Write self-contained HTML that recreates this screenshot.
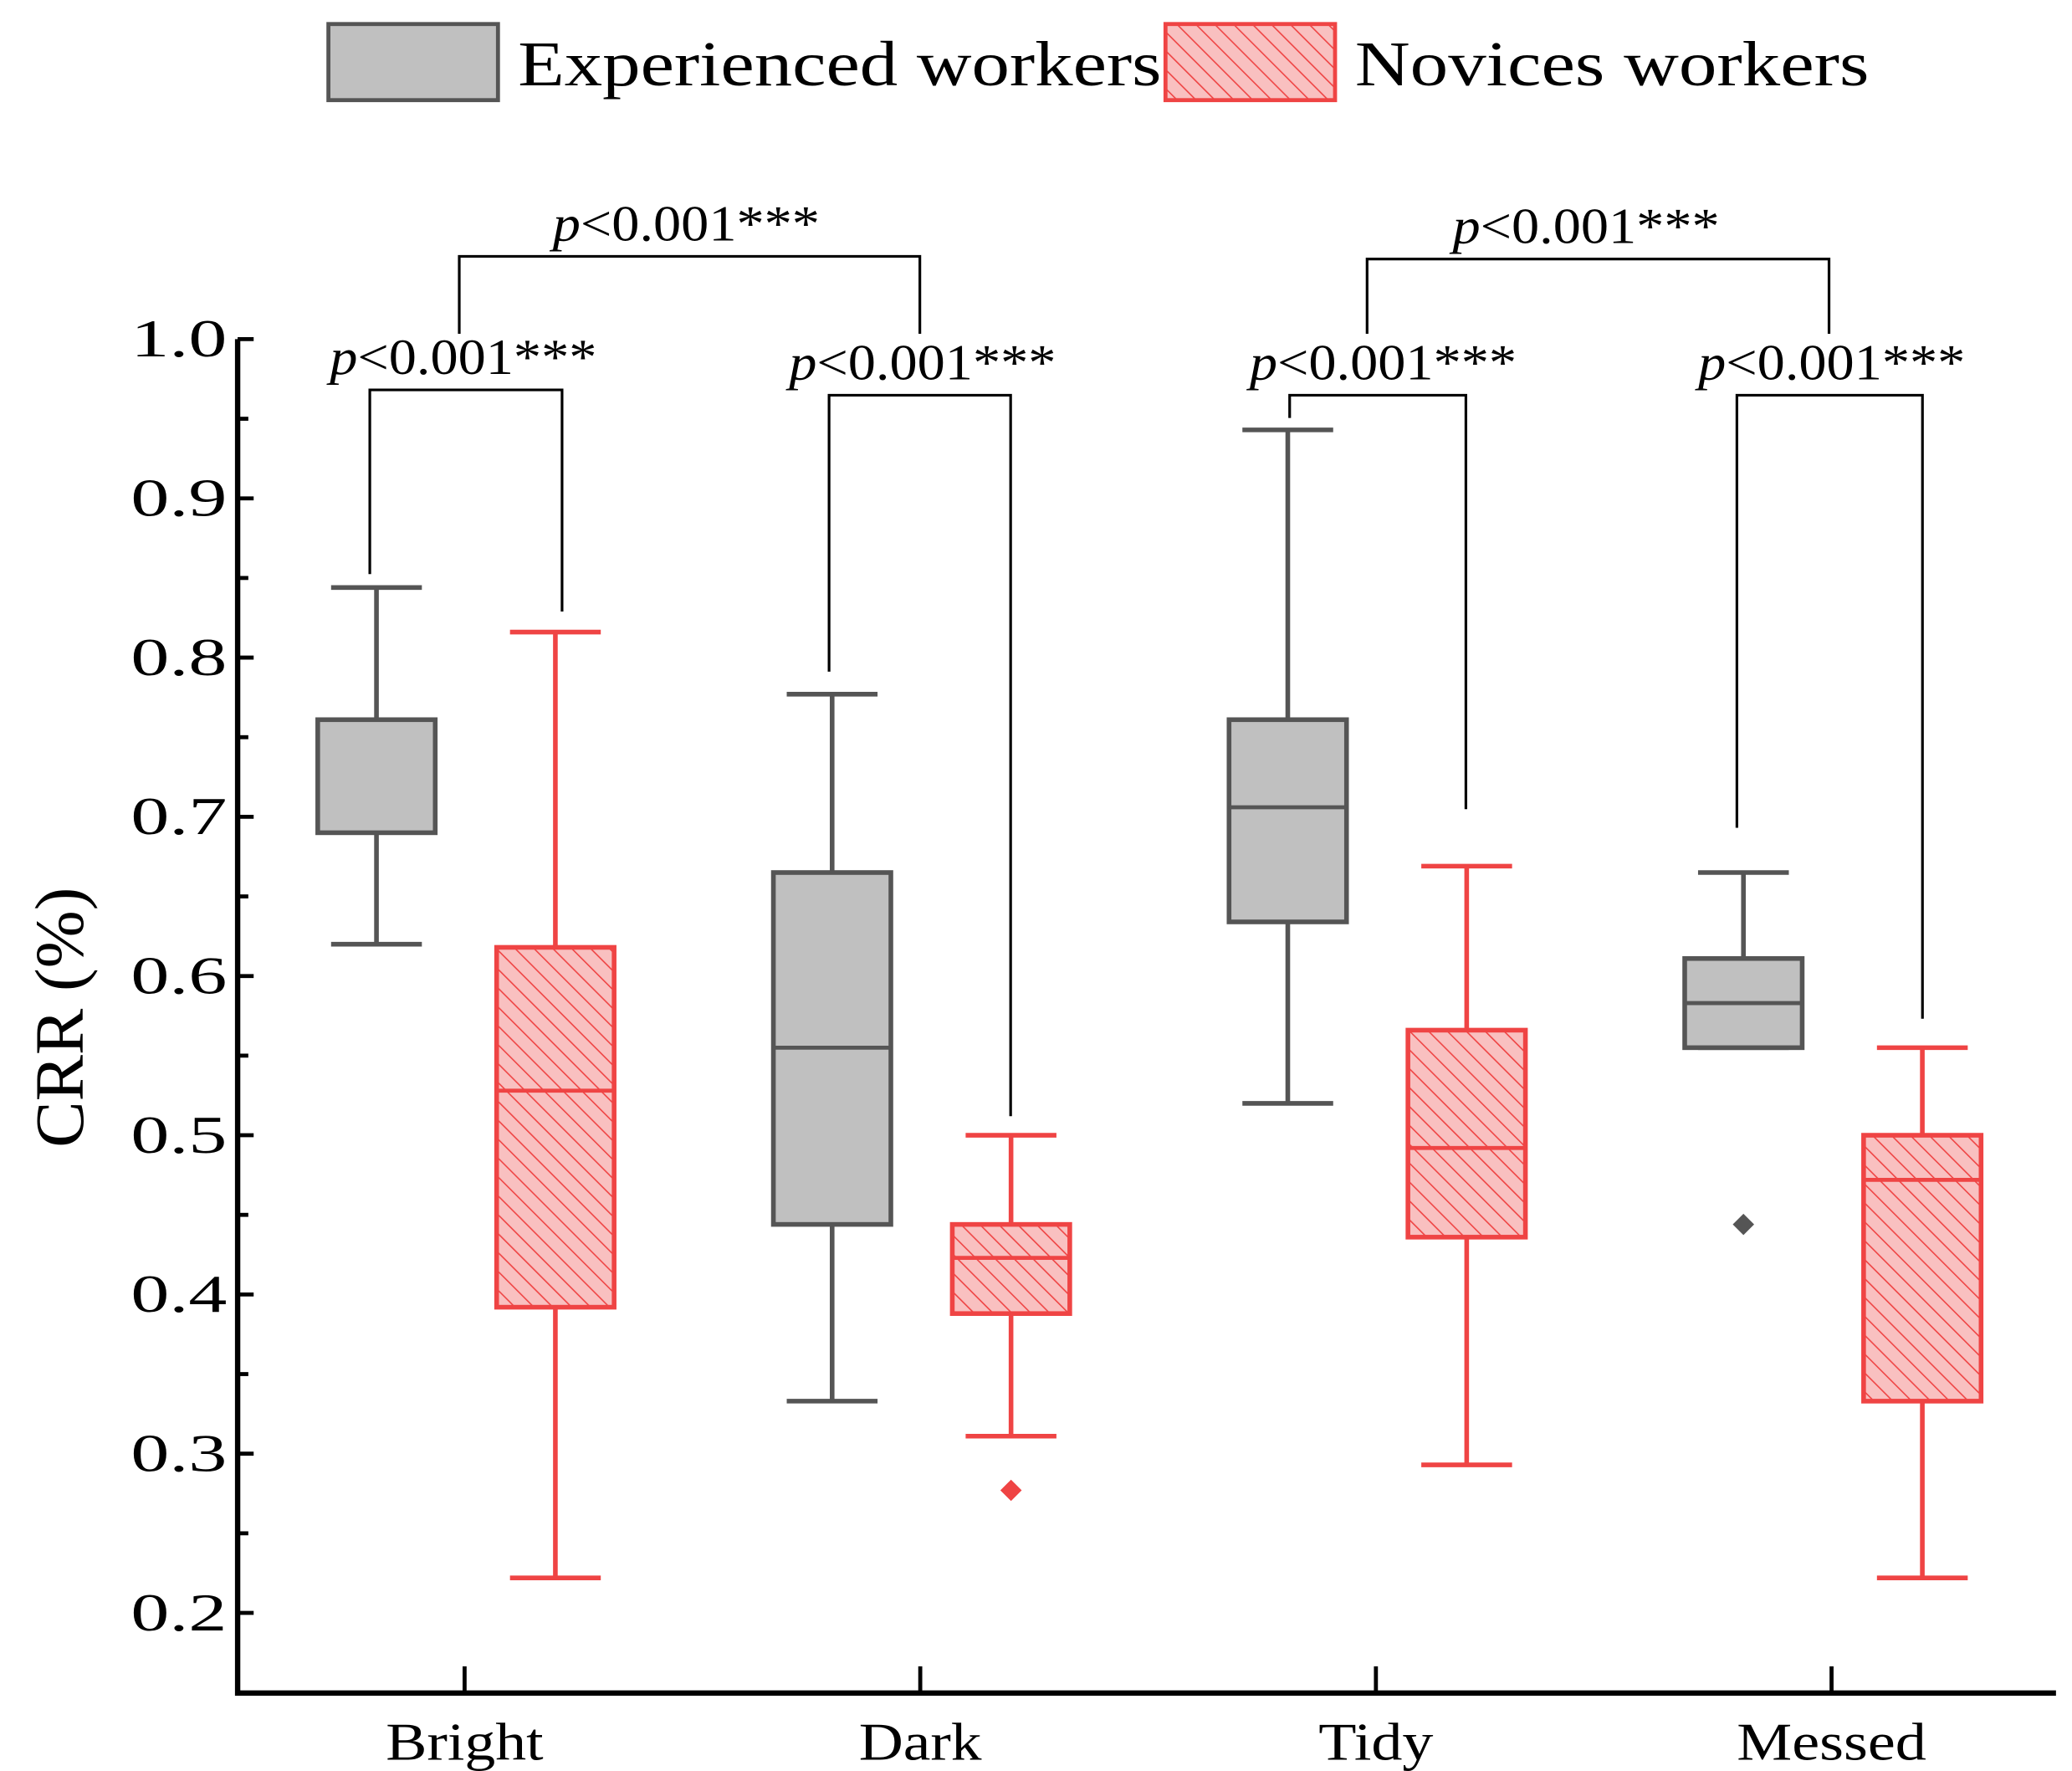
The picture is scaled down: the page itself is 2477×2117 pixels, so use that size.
<!DOCTYPE html>
<html><head><meta charset="utf-8"><style>
html,body{margin:0;padding:0;background:#fff}
svg{display:block}
text{font-family:"Liberation Serif",serif;fill:#000}
</style></head><body>
<svg id="chart" width="2477" height="2117" viewBox="0 0 1552 1326.4" preserveAspectRatio="none" xmlns="http://www.w3.org/2000/svg">
<defs>
<pattern id="hatch" patternUnits="userSpaceOnUse" width="10" height="10" patternTransform="rotate(-45)">
<rect width="10" height="10" fill="#f9c0c0"/>
<line x1="0" y1="0" x2="0" y2="10" stroke="#ef4444" stroke-width="2"/>
</pattern>
</defs>
<g id="legend">
<rect x="246" y="18" width="127" height="57" fill="#c0c0c0" stroke="#555" stroke-width="3"/>
<text x="388" y="64" font-size="48" textLength="482" lengthAdjust="spacingAndGlyphs">Experienced workers</text>
<rect x="873" y="18" width="127" height="57" fill="url(#hatch)" stroke="#ef4444" stroke-width="3"/>
<text x="1015" y="64" font-size="48" textLength="385" lengthAdjust="spacingAndGlyphs">Novices workers</text>
</g>
<g id="axes"></g>
<g id="boxes"></g>
<g id="sig"></g>
<text transform="translate(62,762) rotate(-90)" text-anchor="middle" font-size="52">CRR (%)</text>
</svg>
<script>
const categories = ["Bright","Dark","Tidy","Messed"];
const yTicks = [0.2,0.3,0.4,0.5,0.6,0.7,0.8,0.9,1.0];
const expMax = [0.844,0.777,0.943,0.665];
const expQ3 = [0.761,0.665,0.761,0.611];
const expMed = [0.690,0.555,0.706,0.583];
const expQ1 = [0.690,0.444,0.634,0.555];
const expMin = [0.620,0.333,0.520,0.555];
const expOut = [null,null,null,0.444];
const novMax = [0.816,0.500,0.669,0.555];
const novQ3 = [0.618,0.444,0.566,0.500];
const novMed = [0.528,0.423,0.492,0.472];
const novQ1 = [0.392,0.388,0.436,0.333];
const novMin = [0.222,0.311,0.293,0.222];
const novOut = [null,0.277,null,null];

const NS="http://www.w3.org/2000/svg";
const X0=178, X1=1540, YB=1268;
function y(v){return 254+(1.0-v)*1192.5;}
function xc(i){return 348+i*341.3;}
function mk(parent,tag,attrs){const e=document.createElementNS(NS,tag);for(const k in attrs)e.setAttribute(k,attrs[k]);parent.appendChild(e);return e;}
const axes=document.getElementById('axes');
let e=mk(axes,'path',{d:`M${X0},${y(1.0)} V${YB} H${X1}`,fill:'none',stroke:'#000','stroke-width':4});


for(let v=0.2;v<=1.0001;v+=0.05){
  const major=Math.abs(Math.round(v*10)-v*10)<0.01;
  e=mk(axes,'line',{x1:X0,x2:X0+(major?12:8),y1:y(v),y2:y(v),stroke:'#000','stroke-width':3});
  
  
}
yTicks.forEach(v=>{
  e=mk(axes,'text',{x:170,y:y(v)+13,'text-anchor':'end','font-size':40,textLength:72,lengthAdjust:'spacingAndGlyphs'});
  e.textContent=v.toFixed(1);
  
  
});
const xLabelW=[118,92,86,142];
categories.forEach((c,i)=>{
  e=mk(axes,'line',{x1:xc(i),x2:xc(i),y1:YB-20,y2:YB,stroke:'#000','stroke-width':3});
  
  
  e=mk(axes,'text',{x:xc(i),y:1318,'text-anchor':'middle','font-size':40,textLength:xLabelW[i],lengthAdjust:'spacingAndGlyphs'});
  e.textContent=c;
  
  
});
const boxes=document.getElementById('boxes');
function box(cx,mx,q3,md,q1,mn,out,stroke,fill,name){
  const g=mk(boxes,'g',{});
  
  
  const w=88,cap=34,sw=3.5;
  mk(g,'line',{x1:cx,x2:cx,y1:y(mx),y2:y(q3),stroke,'stroke-width':sw});
  mk(g,'line',{x1:cx,x2:cx,y1:y(q1),y2:y(mn),stroke,'stroke-width':sw});
  mk(g,'line',{x1:cx-cap,x2:cx+cap,y1:y(mx),y2:y(mx),stroke,'stroke-width':sw});
  mk(g,'line',{x1:cx-cap,x2:cx+cap,y1:y(mn),y2:y(mn),stroke,'stroke-width':sw});
  mk(g,'rect',{x:cx-w/2,y:y(q3),width:w,height:y(q1)-y(q3),fill,stroke,'stroke-width':sw});
  mk(g,'line',{x1:cx-w/2,x2:cx+w/2,y1:y(md),y2:y(md),stroke,'stroke-width':3});
  if(out!=null){const oy=y(out);mk(g,'path',{d:`M${cx},${oy-8} L${cx+8},${oy} L${cx},${oy+8} L${cx-8},${oy} Z`,fill:stroke});}
}
categories.forEach((c,i)=>{
  box(xc(i)-66,expMax[i],expQ3[i],expMed[i],expQ1[i],expMin[i],expOut[i],'#555','#c0c0c0','box-experienced-'+c.toLowerCase());
  box(xc(i)+68,novMax[i],novQ3[i],novMed[i],novQ1[i],novMin[i],novOut[i],'#ef4444','url(#hatch)','box-novices-'+c.toLowerCase());
});
const sig=document.getElementById('sig');
function bracket(xl,xr,top,yl,yr,tx,name){
  e=mk(sig,'path',{d:`M${xl},${yl} V${top} H${xr} V${yr}`,fill:'none',stroke:'#000','stroke-width':2});
  
  
  const t=mk(sig,'text',{x:tx,y:top-12,'font-size':38,textLength:200,lengthAdjust:'spacingAndGlyphs'});
  t.innerHTML='<tspan font-style="italic">p</tspan>&lt;0.001***';
  
  
}
bracket(277,421,292,430,458,247,'sig-bright');
bracket(621,757,296,503,836,591,'sig-dark');
bracket(966,1098,296,313,606,936,'sig-tidy');
bracket(1301,1440,296,620,763,1272,'sig-messed');
bracket(344,689,192,250,250,414,'sig-bright-dark');
bracket(1024,1370,194,250,250,1088,'sig-tidy-messed');
</script>
</body></html>
